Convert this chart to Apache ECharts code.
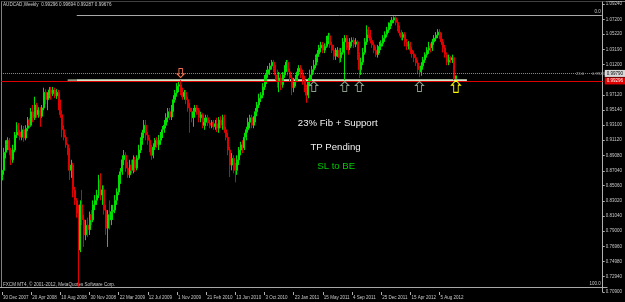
<!DOCTYPE html>
<html>
<head>
<meta charset="utf-8">
<title>AUDCAD Weekly</title>
<script src="https://cdn.jsdelivr.net/npm/echarts@6/dist/echarts.min.js"></script>
<style>
  html, body { margin: 0; padding: 0; background: #000; }
  #main { width: 625px; height: 302px; }
</style>
</head>
<body>
<div id="main"></div>
<script>
  // date labels under the chart, one every 16 weekly bars
  var weekTicks = ['30 Dec 2007', '20 Apr 2008', '10 Aug 2008', '30 Nov 2008', '22 Mar 2009', '12 Jul 2009',
    '1 Nov 2009', '21 Feb 2010', '13 Jun 2010', '3 Oct 2010', '23 Jan 2011', '15 May 2011', '4 Sep 2011',
    '25 Dec 2011', '15 Apr 2012', '5 Aug 2012'];

  // price scale labels on the right
  var priceTicks = [0.70900, 0.72940, 0.74980, 0.76960, 0.79000, 0.81040, 0.83020, 0.85060, 0.87040, 0.89080,
    0.91120, 0.93100, 0.95140, 0.97120, 1.01200, 1.03190, 1.05220, 1.07200, 1.09240];

  // weekly bars
  var opens = [
    .858, .871, .895, .905, .911, .898, .885, .898, .918, .931,
    .922, .915, .925, .914, .927, .938, .931, .949, .941, .958,
    .945, .951, .943, .954, .975, .965, .971, .978, .973, .978,
    .970, .975, .958, .945, .925, .915, .905, .898, .871, .878,
    .845, .831, .814, .765, .825, .805, .785, .798, .792, .812,
    .805, .825, .831, .838, .858, .838, .845, .818, .794, .812,
    .805, .816, .818, .831, .842, .858, .869, .885, .891, .874,
    .865, .878, .871, .885, .874, .887, .898, .911, .921, .931,
    .918, .911, .901, .891, .902, .911, .905, .911, .918, .925,
    .931, .941, .949, .942, .954, .965, .974, .983, .985, .975,
    .969, .975, .965, .954, .949, .941, .949, .954, .951, .941,
    .945, .931, .935, .941, .934, .931, .935, .929, .933, .927,
    .938, .931, .941, .925, .915, .898, .878, .887, .874, .871,
    .885, .898, .905, .901, .915, .925, .935, .941, .931, .938,
    .949, .958, .967, .971, .982, .991, .999, 1.005, 1.010, 1.015,
    1.007, .998, .989, .994, .985, .998, 1.007, 1.015, 1.002, .994,
    .981, .989, .994, 1.002, 1.007, .999, .991, .981, .971, .989,
    .998, 1.005, 1.011, 1.021, 1.026, 1.034, 1.038, 1.031, 1.036, 1.044,
    1.050, 1.038, 1.031, 1.023, 1.028, 1.031, 1.021, 1.028, 1.042, 1.047,
    1.038, 1.034, 1.042, 1.044, 1.039, 1.042, 1.025, 1.005, 1.015, 1.028,
    1.042, 1.058, 1.052, 1.044, 1.038, 1.031, 1.025, 1.031, 1.036, 1.040,
    1.047, 1.052, 1.058, 1.063, 1.067, 1.071, 1.074, 1.068, 1.060, 1.054,
    1.048, 1.052, 1.042, 1.036, 1.039, 1.031, 1.026, 1.021, 1.014, 1.005,
    1.002, 1.010, 1.018, 1.025, 1.031, 1.036, 1.034, 1.042, 1.047, 1.051,
    1.055, 1.050, 1.042, 1.034, 1.025, 1.015, 1.021, 1.018, 1.021, 0.99296
  ];
  var closes = [
    .871, .895, .905, .911, .898, .885, .898, .918, .931, .922,
    .915, .925, .914, .927, .938, .931, .949, .941, .958, .945,
    .951, .943, .954, .975, .965, .971, .978, .973, .978, .970,
    .975, .958, .945, .925, .915, .905, .898, .871, .878, .845,
    .831, .814, .765, .825, .805, .785, .798, .792, .812, .805,
    .825, .831, .838, .858, .838, .845, .818, .794, .812, .805,
    .816, .818, .831, .842, .858, .869, .885, .891, .874, .865,
    .878, .871, .885, .874, .887, .898, .911, .921, .931, .918,
    .911, .901, .891, .902, .911, .905, .911, .918, .925, .931,
    .941, .949, .942, .954, .965, .974, .983, .985, .975, .969,
    .975, .965, .954, .949, .941, .949, .954, .951, .941, .945,
    .931, .935, .941, .934, .931, .935, .929, .933, .927, .938,
    .931, .941, .925, .915, .898, .878, .887, .874, .871, .885,
    .898, .905, .901, .915, .925, .935, .941, .931, .938, .949,
    .958, .967, .971, .982, .991, .999, 1.005, 1.010, 1.015, 1.007,
    .998, .989, .994, .985, .998, 1.007, 1.015, 1.002, .994, .981,
    .989, .994, 1.002, 1.007, .999, .991, .981, .971, .989, .998,
    1.005, 1.011, 1.021, 1.026, 1.034, 1.038, 1.031, 1.036, 1.044, 1.050,
    1.038, 1.031, 1.023, 1.028, 1.031, 1.021, 1.028, 1.042, 1.047, 1.038,
    1.034, 1.042, 1.044, 1.039, 1.042, 1.025, 1.005, 1.015, 1.028, 1.042,
    1.058, 1.052, 1.044, 1.038, 1.031, 1.025, 1.031, 1.036, 1.040, 1.047,
    1.052, 1.058, 1.063, 1.067, 1.071, 1.074, 1.068, 1.060, 1.054, 1.048,
    1.052, 1.042, 1.036, 1.039, 1.031, 1.026, 1.021, 1.014, 1.005, 1.002,
    1.010, 1.018, 1.025, 1.031, 1.036, 1.034, 1.042, 1.047, 1.051, 1.055,
    1.050, 1.042, 1.034, 1.025, 1.015, 1.021, 1.018, 1.021, 0.993, 0.99676
  ];
  var highs = [
    .878, .901, .911, .915, .914, .901, .905, .922, .935, .934,
    .925, .931, .930, .931, .942, .941, .954, .958, .969, .961,
    .955, .955, .958, .981, .979, .975, .982, .982, .982, .981,
    .979, .978, .965, .951, .931, .918, .907, .901, .885, .881,
    .849, .834, .825, .831, .845, .812, .805, .808, .816, .818,
    .831, .838, .845, .865, .867, .851, .851, .825, .818, .831,
    .825, .825, .838, .847, .865, .874, .891, .898, .895, .882,
    .885, .885, .891, .889, .891, .905, .915, .925, .938, .938,
    .922, .915, .905, .907, .914, .915, .918, .922, .930, .938,
    .947, .954, .954, .958, .971, .978, .987, .989, .991, .981,
    .978, .978, .969, .961, .954, .954, .958, .958, .954, .949,
    .947, .941, .945, .945, .938, .938, .938, .938, .941, .942,
    .943, .945, .945, .929, .921, .902, .894, .891, .881, .891,
    .902, .909, .911, .921, .929, .941, .945, .945, .943, .954,
    .962, .973, .975, .987, .998, 1.005, 1.010, 1.014, 1.018, 1.018,
    1.011, 1.005, 1.002, .999, 1.002, 1.011, 1.018, 1.018, 1.007, .998,
    .994, .998, 1.007, 1.011, 1.011, 1.005, .997, .985, .994, 1.005,
    1.010, 1.018, 1.025, 1.031, 1.038, 1.042, 1.042, 1.040, 1.050, 1.054,
    1.054, 1.042, 1.038, 1.034, 1.035, 1.034, 1.034, 1.047, 1.051, 1.051,
    1.042, 1.047, 1.048, 1.048, 1.047, 1.044, 1.028, 1.021, 1.034, 1.047,
    1.064, 1.062, 1.058, 1.048, 1.042, 1.036, 1.038, 1.042, 1.044, 1.051,
    1.056, 1.062, 1.068, 1.071, 1.075, 1.076, 1.076, 1.072, 1.064, 1.058,
    1.055, 1.055, 1.046, 1.043, 1.042, 1.035, 1.030, 1.025, 1.018, 1.010,
    1.015, 1.022, 1.028, 1.035, 1.042, 1.040, 1.046, 1.051, 1.055, 1.059,
    1.059, 1.054, 1.046, 1.038, 1.028, 1.025, 1.023, 1.025, 1.022, 0.99694
  ];
  var lows = [
    .851, .865, .887, .898, .891, .878, .881, .895, .914, .917,
    .911, .911, .909, .911, .923, .927, .929, .935, .938, .941,
    .941, .929, .941, .951, .959, .951, .967, .965, .970, .967,
    .966, .951, .941, .915, .911, .901, .891, .858, .861, .835,
    .825, .808, .716, .762, .798, .769, .778, .782, .785, .798,
    .802, .818, .825, .834, .831, .825, .812, .785, .769, .792,
    .798, .805, .814, .825, .838, .853, .865, .878, .869, .861,
    .861, .867, .867, .869, .871, .885, .894, .905, .914, .911,
    .905, .895, .885, .887, .898, .901, .898, .905, .914, .921,
    .927, .935, .938, .938, .949, .961, .969, .975, .971, .965,
    .965, .959, .949, .921, .935, .929, .941, .945, .935, .935,
    .927, .925, .930, .930, .927, .927, .925, .925, .922, .921,
    .927, .925, .921, .911, .891, .862, .871, .867, .855, .865,
    .878, .891, .894, .898, .911, .921, .927, .927, .927, .935,
    .943, .954, .962, .967, .978, .986, .994, .998, 1.005, 1.002,
    .991, .981, .975, .978, .981, .994, 1.002, .997, .989, .971,
    .975, .983, .989, .997, .994, .985, .975, .961, .967, .983,
    .989, 1.001, 1.007, 1.015, 1.022, 1.028, 1.027, 1.027, 1.034, 1.039,
    1.034, 1.027, 1.018, 1.018, 1.022, 1.014, 1.015, 1.025, .991, 1.031,
    1.025, 1.031, 1.036, 1.034, 1.035, 1.018, .994, .998, 1.011, 1.025,
    1.038, 1.047, 1.040, 1.034, 1.027, 1.022, 1.021, 1.027, 1.031, 1.036,
    1.042, 1.048, 1.054, 1.059, 1.063, 1.067, 1.064, 1.056, 1.050, 1.044,
    1.044, 1.036, 1.031, 1.032, 1.026, 1.021, 1.015, 1.010, .999, .995,
    .997, 1.005, 1.014, 1.021, 1.026, 1.028, 1.030, 1.038, 1.043, 1.047,
    1.046, 1.038, 1.028, 1.021, 1.011, 1.011, 1.014, 1.014, 0.991, 0.99287
  ];

  // levels drawn on the chart
  var fibTop = 1.0777;
  var fibBottom = 0.7157;
  var redLine = 0.9935;
  var dotLine = 0.9979;
  var bandTop = 0.9922;
  var bandBottom = 0.9889;

  var chart = echarts.init(document.getElementById('main'));

  // empty slots to the right, MT4 leaves space after the last bar
  var slots = [];
  for (var i = 0; i < 330; i++) slots.push(String(i));

  var candles = opens.map(function (o, i) {
    return [o, closes[i], lows[i], highs[i]];
  });

  function isWeekTick(idx) {
    return idx % 16 === 0 && idx / 16 < weekTicks.length;
  }

  var smallFont = 'Liberation Sans';
  var upArrow = 'path://M4,0 L8,4 L6,4 L6,10 L2,10 L2,4 L0,4 Z';
  var downArrow = 'path://M2,0 L6,0 L6,6 L8,6 L4,10 L0,6 L2,6 Z';

  function arrow(idx, price, color, sym, size) {
    return {
      coord: [idx, price],
      symbol: sym,
      symbolSize: size,
      itemStyle: {color: 'rgba(0,0,0,0)', borderColor: color, borderWidth: 1}
    };
  }

  var option = {
    backgroundColor: '#000000',
    animation: false,
    grid: {left: -2.12, right: 17.5, top: 2, bottom: 10},
    xAxis: {
      type: 'category',
      data: slots,
      boundaryGap: true,
      axisLine: {show: false},
      axisTick: {
        show: true,
        alignWithLabel: true,
        interval: function (idx) { return isWeekTick(idx); },
        length: 3,
        lineStyle: {color: '#b0b0b0'}
      },
      axisLabel: {
        interval: function (idx) { return isWeekTick(idx); },
        formatter: function (v, idx) { return weekTicks[idx / 16] || ''; },
        color: '#c8c8c8',
        fontSize: 4.5,
        fontFamily: smallFont,
        align: 'left',
        margin: 3,
        padding: [0, 0, 0, 1]
      },
      splitLine: {show: false}
    },
    yAxis: {
      type: 'value',
      position: 'right',
      min: 0.709,
      max: 1.0951,
      axisLine: {show: true, lineStyle: {color: '#b0b0b0'}},
      axisTick: {show: true, length: 2, customValues: priceTicks, lineStyle: {color: '#b0b0b0'}},
      axisLabel: {
        customValues: priceTicks,
        formatter: function (v) { return v.toFixed(5); },
        color: '#c8c8c8',
        fontSize: 4.5,
        fontFamily: smallFont,
        margin: 3
      },
      splitLine: {show: false}
    },
    series: [{
      type: 'candlestick',
      data: candles,
      barWidth: 1.5,
      silent: true,
      itemStyle: {
        color: '#00e000',
        color0: '#e00000',
        borderColor: '#00e000',
        borderColor0: '#e00000',
        borderWidth: 1
      },
      markArea: {
        silent: true,
        data: [
          [{coord: [36, bandTop], itemStyle: {color: '#8c9c80'}}, {coord: [41, bandBottom]}],
          [{coord: [41, bandTop], itemStyle: {color: '#d4e4c6'}}, {coord: [255, bandBottom]}]
        ]
      },
      markLine: {
        silent: true,
        symbol: ['none', 'none'],
        data: [
          {
            yAxis: dotLine,
            lineStyle: {color: '#8c8c8c', type: 'dotted', width: 1},
            label: {show: true, position: 'end', distance: 2, formatter: '0.99790', backgroundColor: '#d8d8d8',
              color: '#000', fontSize: 4.5, fontFamily: smallFont, padding: [1, 2]}
          },
          {
            yAxis: redLine,
            lineStyle: {color: '#e00000', type: 'solid', width: 1},
            label: {show: true, position: 'end', distance: 2, formatter: '0.99296', backgroundColor: '#e00000',
              color: '#fff', fontSize: 4.5, fontFamily: smallFont, padding: [1, 2]}
          },
          [
            {coord: [41, fibTop], lineStyle: {color: '#a8a8a8', type: 'solid', width: 1},
              label: {show: true, position: 'insideEndTop', formatter: '0.0', color: '#c8c8c8', fontSize: 4.5,
                fontFamily: smallFont, distance: 1}},
            {coord: [329, fibTop]}
          ],
          [
            {coord: [41, fibBottom], lineStyle: {color: '#a8a8a8', type: 'solid', width: 1},
              label: {show: true, position: 'insideEndTop', formatter: '100.0', color: '#c8c8c8', fontSize: 4.5,
                fontFamily: smallFont, distance: 1}},
            {coord: [329, fibBottom]}
          ]
        ]
      },
      markPoint: {
        silent: true,
        label: {show: false},
        data: [
          arrow(98, 1.0005, '#f07050', downArrow, [7, 9]),
          arrow(171, 0.9826, '#8aa08a', upArrow, [8, 10]),
          arrow(188, 0.9826, '#8aa08a', upArrow, [8, 10]),
          arrow(196, 0.9826, '#8aa08a', upArrow, [8, 10]),
          arrow(229, 0.9826, '#8aa08a', upArrow, [8, 10]),
          arrow(249, 0.9828, '#ffff00', upArrow, [9, 12])
        ]
      }
    }],
    graphic: [
      // window frame
      {type: 'line', shape: {x1: 1.5, y1: 1.5, x2: 1.5, y2: 287.5}, style: {stroke: '#808080', lineWidth: 1}},
      {type: 'line', shape: {x1: 1.5, y1: 1.5, x2: 607.5, y2: 1.5}, style: {stroke: '#808080', lineWidth: 1, lineDash: [1, 1]}},
      {type: 'line', shape: {x1: 607.5, y1: 1.5, x2: 625, y2: 1.5}, style: {stroke: '#808080', lineWidth: 1}},
      {type: 'line', shape: {x1: 0, y1: 287.5, x2: 607.5, y2: 287.5}, style: {stroke: '#a8a8a8', lineWidth: 1}},
      // header and footer
      {type: 'text', x: 3, y: 5, style: {text: 'AUDCAD,Weekly  0.99296 0.99694 0.99287 0.99676', fill: '#d0d0d0',
        fontSize: 4.6, fontFamily: smallFont, verticalAlign: 'middle'}},
      {type: 'text', x: 3, y: 285, style: {text: 'FXCM MT4, \u00a9 2001-2012, MetaQuotes Software Corp.', fill: '#c8c8c8',
        fontSize: 4.6, fontFamily: smallFont, verticalAlign: 'middle'}},
      // fib level caption
      {type: 'text', x: 576, y: 74, style: {text: '23.6', fill: '#a0a0a0', fontSize: 4.2, fontFamily: smallFont, verticalAlign: 'middle'}},
      {type: 'text', x: 592, y: 74, style: {text: '0.99232', fill: '#a0a0a0', fontSize: 4.2, fontFamily: smallFont, verticalAlign: 'middle'}},
      // notes
      {type: 'text', x: 337.7, y: 123, style: {text: '23% Fib + Support', fill: '#f0f0f0', fontSize: 9.6,
        fontFamily: smallFont, align: 'center', verticalAlign: 'middle'}},
      {type: 'text', x: 335.5, y: 147, style: {text: 'TP Pending', fill: '#f0f0f0', fontSize: 9.6,
        fontFamily: smallFont, align: 'center', verticalAlign: 'middle'}},
      {type: 'text', x: 336.2, y: 166, style: {text: 'SL to BE', fill: '#00c800', fontSize: 9.6,
        fontFamily: smallFont, align: 'center', verticalAlign: 'middle'}}
    ]
  };

  option && chart.setOption(option);
</script>
</body>
</html>
